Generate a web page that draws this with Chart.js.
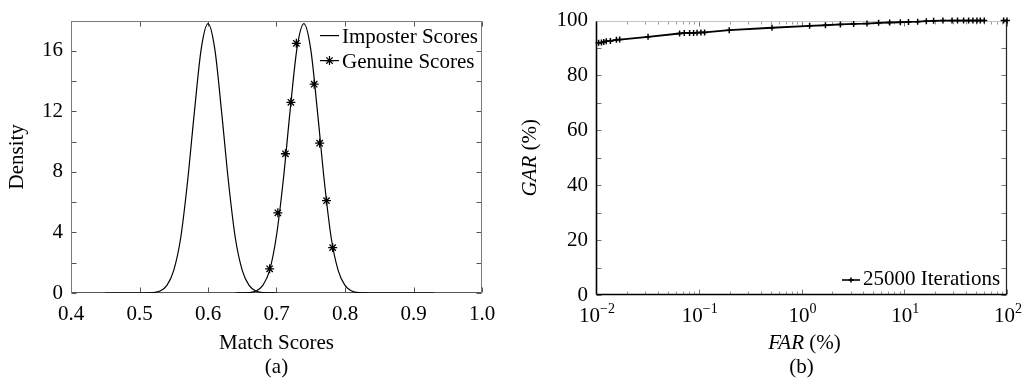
<!DOCTYPE html>
<html>
<head>
<meta charset="utf-8">
<script src="https://cdn.jsdelivr.net/npm/chart.js@4/dist/chart.umd.min.js"></script>
<style>
  body { margin: 0; background: #fff; }
  #page { position: relative; width: 1026px; height: 381px; overflow: hidden; background: #fff; }
  #density-chart { position: absolute; left: 0; top: 0; }
  #roc-chart { position: absolute; left: 520px; top: 0; }
</style>
</head>
<body>
<div id="page">
  <canvas id="density-chart" width="520" height="381"></canvas>
  <canvas id="roc-chart" width="506" height="381"></canvas>
</div>
<script>
// (a) match score densities
const imposterScores  = [0.45, 0.50, 0.52, 0.53, 0.54, 0.55, 0.56, 0.57, 0.58, 0.59, 0.60, 0.61, 0.62, 0.63, 0.64, 0.65, 0.66, 0.67, 0.68, 0.70];
const imposterDensity = [0, 0, 0.03, 0.13, 0.5, 1.5, 3.6, 7.3, 11.9, 16.1, 17.8, 16.1, 11.9, 7.3, 3.6, 1.5, 0.5, 0.13, 0.03, 0];
const genuineScores   = [0.64, 0.66, 0.67, 0.68, 0.69, 0.70, 0.71, 0.72, 0.73, 0.74, 0.75, 0.76, 0.77, 0.78, 0.79, 0.80, 0.81, 0.82, 0.85, 0.93];
const genuineDensity  = [0, 0.03, 0.13, 0.5, 1.5, 3.8, 7.5, 12.1, 16.2, 17.8, 16.1, 11.9, 7.3, 3.6, 1.5, 0.5, 0.13, 0.03, 0, 0];
const genuineMarkScores  = [0.690, 0.702, 0.713, 0.721, 0.729, 0.755, 0.763, 0.773, 0.782];
const genuineMarkDensity = [1.6, 5.3, 9.2, 12.6, 16.5, 13.8, 9.9, 6.1, 3.0];
const scoreTicks   = [0.4, 0.5, 0.6, 0.7, 0.8, 0.9, 1.0];
const densityTicks = [0, 4, 8, 12, 16];

// (b) GAR against FAR, 25000 iterations
const farPercent = [0.0106, 0.0113, 0.0119, 0.0126, 0.0138, 0.0158, 0.0170, 0.0321, 0.0651, 0.0723,
                    0.0815, 0.0891, 0.0962, 0.105, 0.114, 0.198, 0.516, 1.20, 1.71, 2.39,
                    3.22, 4.34, 5.63, 7.21, 9.16, 11.0, 13.5, 16.4, 19.3, 23.8,
                    29.2, 33.0, 37.8, 42.3, 46.6, 51.0, 55.0, 60.1, 92.7, 100];
const garPercent = [91.9, 92.0, 92.2, 92.5, 92.6, 93.0, 93.1, 94.1, 95.3, 95.5,
                    95.5, 95.5, 95.6, 95.7, 95.7, 96.5, 97.4, 98.1, 98.3, 98.6,
                    98.8, 98.9, 99.2, 99.3, 99.4, 99.5, 99.6, 99.8, 99.9, 100,
                    100, 100, 100, 100, 100, 100, 100, 100, 100, 100];
const farDecades = [-2, -1, 0, 1, 2];
const garTicks   = [0, 20, 40, 60, 80, 100];

const SERIF = '"Liberation Serif", "Times New Roman", serif';
Chart.defaults.font.family = SERIF;
Chart.defaults.font.size = 21;
Chart.defaults.color = '#000';

const pairs = (xs, ys) => xs.map((x, i) => ({ x: x, y: ys[i] }));

function line(ctx, x1, y1, x2, y2) {
  ctx.beginPath();
  ctx.moveTo(x1, y1);
  ctx.lineTo(x2, y2);
  ctx.stroke();
}

// text made of pieces, some italic; centred on x, alphabetic baseline at y
function richText(ctx, parts, x, y, size, rotated) {
  ctx.save();
  ctx.translate(x, y);
  if (rotated) ctx.rotate(-Math.PI / 2);
  ctx.fillStyle = '#000';
  ctx.textBaseline = 'alphabetic';
  ctx.textAlign = 'left';
  const font = p => (p.italic ? 'italic ' : '') + size + 'px ' + SERIF;
  let total = 0;
  const widths = parts.map(p => { ctx.font = font(p); const w = ctx.measureText(p.text).width; total += w; return w; });
  let cx = -total / 2;
  parts.forEach((p, i) => { ctx.font = font(p); ctx.fillText(p.text, cx, 0); cx += widths[i]; });
  ctx.restore();
}

function legendSample(ctx, x1, x2, y, style, radius, width) {
  ctx.save();
  ctx.strokeStyle = '#000';
  ctx.lineWidth = width;
  line(ctx, x1, y, x2, y);
  if (style) {
    Chart.helpers.drawPoint(ctx, { pointStyle: style, radius: radius, borderWidth: 1.3 }, (x1 + x2) / 2, y);
  }
  ctx.restore();
}

// box round the plot area with inward tick marks, plus the panel's labels
function panelDecor(cfg) {
  return {
    id: 'panelDecor',
    beforeDatasetsDraw(chart) {
      const { ctx, chartArea: a } = chart;
      const xs = chart.scales.x, ys = chart.scales.y;
      const L = Math.round(a.left) + 0.5, R = Math.round(a.right) - 0.5;
      const T = Math.round(a.top) + 0.5, B = Math.round(a.bottom) - 0.5;
      const f = cfg.frame;
      ctx.save();
      ctx.lineWidth = 1;
      ctx.strokeStyle = cfg.tickColor;
      cfg.xMarks.forEach(([v, len, col]) => {
        const px = Math.round(xs.getPixelForValue(v)) + 0.5;
        ctx.strokeStyle = col || cfg.tickColor;
        line(ctx, px, B, px, B - len);
        line(ctx, px, T, px, T + len);
      });
      ctx.strokeStyle = cfg.tickColor;
      cfg.yMarks.forEach(([v, len]) => {
        const py = Math.round(ys.getPixelForValue(v)) + 0.5;
        line(ctx, L, py, L + len, py);
        line(ctx, R, py, R - len, py);
      });
      ctx.strokeStyle = f.top[0];    ctx.lineWidth = f.top[1];    line(ctx, L, T, R, T);
      ctx.strokeStyle = f.right[0];  ctx.lineWidth = f.right[1];  line(ctx, R, T, R, B);
      ctx.strokeStyle = f.bottom[0]; ctx.lineWidth = f.bottom[1]; line(ctx, L, B, R, B);
      ctx.strokeStyle = f.left[0];   ctx.lineWidth = f.left[1];   line(ctx, L, T, L, B);
      ctx.restore();
    },
    afterDraw(chart) {
      cfg.labels(chart);
    }
  };
}

// ---------- (a) ----------
const densityMarks = {
  frame: { top: ['#7a7a7a', 1], right: ['#7a7a7a', 1], bottom: ['#555', 1], left: ['#7a7a7a', 1] },
  tickColor: '#555',
  xMarks: scoreTicks.map(v => [v, 5]),
  yMarks: [0, 2, 4, 6, 8, 10, 12, 14, 16, 18].map(v => [v, 5]),
  labels(chart) {
    const { ctx, chartArea: a } = chart;
    const mid = (a.left + a.right) / 2;
    richText(ctx, [{ text: 'Match Scores' }], mid, a.bottom + 56, 21);
    richText(ctx, [{ text: '(a)' }], mid, a.bottom + 80, 21);
    richText(ctx, [{ text: 'Density' }], 23, (a.top + a.bottom) / 2, 21, true);

    ctx.save();
    ctx.font = '21px ' + SERIF;
    ctx.fillStyle = '#000';
    const lx = a.right - 162;
    legendSample(ctx, lx, lx + 19, a.top + 15, null, 0, 1.2);
    ctx.fillText('Imposter Scores', lx + 22, a.top + 22);
    legendSample(ctx, lx, lx + 19, a.top + 40, 'star', 4.5, 1.2);
    ctx.fillText('Genuine Scores', lx + 22, a.top + 47);
    ctx.restore();
  }
};

new Chart(document.getElementById('density-chart'), {
  type: 'line',
  data: {
    datasets: [
      {
        label: 'Imposter Scores',
        data: pairs(imposterScores, imposterDensity),
        borderColor: '#000',
        borderWidth: 1.2,
        pointRadius: 0,
        cubicInterpolationMode: 'monotone'
      },
      {
        label: 'Genuine Scores',
        data: pairs(genuineScores, genuineDensity),
        borderColor: '#000',
        borderWidth: 1.2,
        pointRadius: 0,
        cubicInterpolationMode: 'monotone'
      },
      {
        label: 'Genuine Scores',
        data: pairs(genuineMarkScores, genuineMarkDensity),
        showLine: false,
        pointStyle: 'star',
        pointRadius: 4.5,
        borderColor: '#000',
        borderWidth: 1.3
      }
    ]
  },
  options: {
    responsive: false,
    animation: false,
    layout: { padding: { top: 15, right: 38, left: 0, bottom: 0 } },
    plugins: { legend: { display: false }, tooltip: { enabled: false } },
    scales: {
      x: {
        type: 'linear',
        min: 0.4,
        max: 1.0,
        grid: { display: false, drawTicks: false },
        border: { display: false },
        afterBuildTicks: s => { s.ticks = scoreTicks.map(v => ({ value: v })); },
        afterFit: s => { s.height = 88; },
        ticks: { padding: 9, maxRotation: 0, callback: v => Number(v).toFixed(1) }
      },
      y: {
        min: 0,
        max: 18,
        grid: { display: false, drawTicks: false },
        border: { display: false },
        afterBuildTicks: s => { s.ticks = densityTicks.map(v => ({ value: v })); },
        afterFit: s => { s.width = 71; },
        ticks: { padding: 8 }
      }
    }
  },
  plugins: [panelDecor(densityMarks)]
});

// ---------- (b) ----------
const logMinor = [];
farDecades.slice(0, -1).forEach(d => {
  for (let m = 2; m <= 9; m++) logMinor.push([m * Math.pow(10, d), 3, '#9a9a9a']);
});

const rocMarks = {
  frame: { top: ['#c4c4c4', 1], right: ['#222', 1.2], bottom: ['#000', 1.6], left: ['#000', 1.6] },
  tickColor: '#777',
  xMarks: farDecades.map(d => [Math.pow(10, d), 5]).concat(logMinor),
  yMarks: [0, 10, 20, 30, 40, 50, 60, 70, 80, 90, 100].map(v => [v, 5]),
  labels(chart) {
    const { ctx, chartArea: a } = chart;
    const xs = chart.scales.x;

    // decade labels with superscript exponents
    ctx.save();
    ctx.fillStyle = '#000';
    ctx.textBaseline = 'alphabetic';
    ctx.textAlign = 'left';
    farDecades.forEach(d => {
      const px = xs.getPixelForValue(Math.pow(10, d));
      const exp = d < 0 ? '\u2212' + (-d) : String(d);
      ctx.font = '21px ' + SERIF;
      const wb = ctx.measureText('10').width;
      ctx.font = '14px ' + SERIF;
      const we = ctx.measureText(exp).width;
      const x0 = px - (wb + we) / 2 + 1;
      ctx.font = '21px ' + SERIF;
      ctx.fillText('10', x0, a.bottom + 27);
      ctx.font = '14px ' + SERIF;
      ctx.fillText(exp, x0 + wb, a.bottom + 18);
    });
    ctx.restore();

    const mid = (a.left + a.right) / 2;
    richText(ctx, [{ text: 'FAR', italic: true }, { text: ' (%)' }], mid + 3, a.bottom + 54, 21);
    richText(ctx, [{ text: '(b)' }], mid, a.bottom + 78, 21);
    richText(ctx, [{ text: 'GAR', italic: true }, { text: ' (%)' }], 16, (a.top + a.bottom) / 2, 21, true);

    ctx.save();
    ctx.font = '21px ' + SERIF;
    ctx.fillStyle = '#000';
    const lx = a.right - 165;
    legendSample(ctx, lx, lx + 18, a.bottom - 15, 'cross', 2.5, 1.6);
    ctx.fillText('25000 Iterations', lx + 21, a.bottom - 10);
    ctx.restore();
  }
};

const rocGapAfter = farPercent.indexOf(60.1);

new Chart(document.getElementById('roc-chart'), {
  type: 'line',
  data: {
    datasets: [{
      label: '25000 Iterations',
      data: pairs(farPercent, garPercent),
      borderColor: '#000',
      borderWidth: 1.8,
      pointStyle: 'cross',
      pointRadius: 3,
      pointBorderWidth: 1.5,
      clip: 4,
      segment: {
        borderColor: c => (c.p0DataIndex === rocGapAfter ? 'rgba(0,0,0,0)' : undefined)
      }
    }]
  },
  options: {
    responsive: false,
    animation: false,
    layout: { padding: { top: 17, right: 19, left: 0, bottom: 0 } },
    plugins: { legend: { display: false }, tooltip: { enabled: false } },
    scales: {
      x: {
        type: 'logarithmic',
        min: 0.01,
        max: 100,
        grid: { display: false, drawTicks: false },
        border: { display: false },
        afterBuildTicks: s => { s.ticks = farDecades.map(d => ({ value: Math.pow(10, d) })); },
        afterFit: s => { s.height = 86; },
        ticks: { display: false }
      },
      y: {
        min: 0,
        max: 100,
        grid: { display: false, drawTicks: false },
        border: { display: false },
        afterBuildTicks: s => { s.ticks = garTicks.map(v => ({ value: v })); },
        afterFit: s => { s.width = 76; },
        ticks: { padding: 8 }
      }
    }
  },
  plugins: [panelDecor(rocMarks)]
});
</script>
</body>
</html>
